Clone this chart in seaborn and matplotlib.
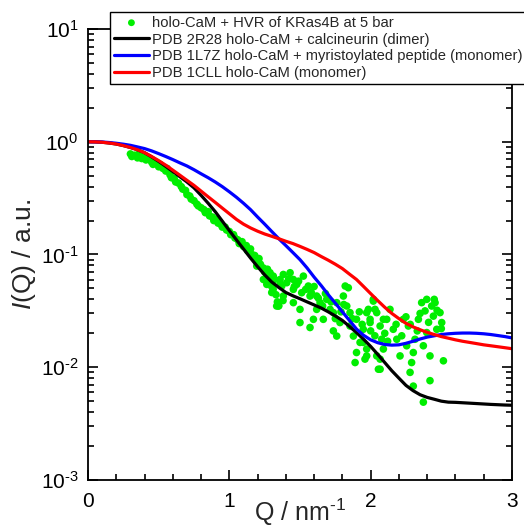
import matplotlib
matplotlib.use("Agg")
import matplotlib.pyplot as plt
import seaborn as sns
from matplotlib.ticker import LogLocator, MultipleLocator, NullFormatter, FuncFormatter
import numpy as np

# measured SAXS data (green points)
q_data = [
    0.30, 0.31, 0.33, 0.35, 0.36, 0.38, 0.40, 0.41, 0.43, 0.45, 0.46, 0.48,
    0.50, 0.51, 0.53, 0.55, 0.56, 0.58, 0.59, 0.61, 0.62, 0.64, 0.66, 0.67,
    0.69, 0.70, 0.72, 0.73, 0.75, 0.77, 0.78, 0.80, 0.82, 0.83, 0.85, 0.86,
    0.88, 0.89, 0.91, 0.92, 0.94, 0.95, 0.97, 0.98, 1.00, 1.01, 1.03, 1.04,
    1.06, 1.07, 1.09, 1.10, 1.12, 1.13, 1.15, 1.16, 1.18, 1.19, 1.21, 1.22,
    1.24, 1.25, 1.26, 1.27, 1.28, 1.29, 1.30, 1.31, 1.32, 1.33, 1.34, 1.35,
    1.36,
    1.194, 1.253, 1.241, 1.288, 1.265, 1.311, 1.359, 1.382, 1.406, 1.430,
    1.453, 1.371, 1.335, 1.382, 1.453, 1.477, 1.524, 1.512, 1.559, 1.571,
    1.453, 1.500, 1.618, 1.642, 1.689, 1.713, 1.736, 1.665, 1.595, 1.500,
    1.571, 1.618, 1.760, 1.807, 1.842, 1.831, 1.854, 1.783, 1.760, 1.736,
    1.854, 1.900, 1.878, 1.925, 1.948, 1.972, 1.900, 1.996, 1.984, 2.019,
    2.043, 2.067, 2.078, 2.043, 2.067, 1.960, 1.890, 2.090, 1.820, 1.347,
    1.972, 2.019, 2.031, 1.996, 1.948, 1.972, 2.067, 2.055, 2.090, 2.114,
    2.137, 2.160, 2.185, 2.208, 2.231, 2.267, 2.255, 2.290, 2.302, 2.314,
    2.279, 2.302, 2.338, 2.361, 2.397, 2.432, 2.444, 2.468, 2.491, 2.503,
    2.397, 2.373, 2.420, 2.515, 2.420, 2.373, 2.456, 2.385,
    1.42, 1.46, 1.49, 1.54, 1.58, 1.60, 1.63, 1.66, 1.68, 1.72, 1.75, 1.79,
    1.81, 1.87, 1.92, 1.94, 2.00, 2.03, 2.10, 2.12, 2.18, 2.22, 2.25, 2.28,
    2.33, 2.35, 2.41, 2.47, 2.45, 2.50, 1.30, 1.38,
]
i_data = [
    0.78, 0.74, 0.76, 0.72, 0.78, 0.71, 0.74, 0.69, 0.72, 0.66, 0.63, 0.65,
    0.60, 0.63, 0.58, 0.55, 0.58, 0.51, 0.48, 0.47, 0.44, 0.43, 0.40, 0.38,
    0.37, 0.34, 0.33, 0.31, 0.30, 0.28, 0.27, 0.26, 0.25, 0.235, 0.24, 0.22,
    0.215, 0.20, 0.205, 0.19, 0.185, 0.175, 0.175, 0.165, 0.160, 0.150, 0.150, 0.140,
    0.135, 0.125, 0.130, 0.118, 0.120, 0.108, 0.112, 0.100, 0.098, 0.088, 0.092, 0.082,
    0.076, 0.070, 0.062, 0.074, 0.058, 0.066, 0.052, 0.049, 0.060, 0.044, 0.038, 0.035,
    0.055,
    0.079, 0.0736, 0.060, 0.0689, 0.0543, 0.0643, 0.060, 0.0665, 0.0562, 0.0689,
    0.060, 0.0525, 0.0349, 0.0428, 0.049, 0.0543, 0.0643, 0.0458, 0.0525, 0.0428,
    0.0374, 0.0326, 0.0428, 0.0374, 0.040, 0.0326, 0.0305, 0.0266, 0.0266, 0.0249,
    0.0225, 0.0326, 0.0374, 0.0428, 0.0507, 0.0349, 0.0305, 0.0249, 0.0189, 0.021,
    0.0232, 0.0266, 0.0189, 0.0166, 0.0217, 0.0145, 0.0135, 0.0266, 0.0326, 0.0386,
    0.0305, 0.0232, 0.0177, 0.0126, 0.0096, 0.0118, 0.011, 0.0266, 0.0525, 0.035,
    0.0305, 0.040, 0.0326, 0.0249, 0.0166, 0.0126, 0.0118, 0.0096, 0.0145, 0.0266,
    0.0326, 0.0217, 0.0177, 0.0126, 0.0266, 0.0232, 0.0155, 0.011, 0.0135, 0.0177,
    0.009, 0.0068, 0.0266, 0.0374, 0.040, 0.0349, 0.0284, 0.0217, 0.0305, 0.0249,
    0.0203, 0.0155, 0.0126, 0.0114, 0.0076, 0.0049, 0.0374, 0.0316,
    0.061, 0.052, 0.058, 0.049, 0.046, 0.052, 0.041, 0.035, 0.045, 0.038, 0.027, 0.031,
    0.036, 0.027, 0.031, 0.024, 0.021, 0.019, 0.020, 0.017, 0.024, 0.019, 0.028, 0.024,
    0.021, 0.030, 0.025, 0.032, 0.040, 0.022, 0.046, 0.039,
]

# model curves, read every 0.05 nm^-1
q_model = [
    0.00, 0.05, 0.10, 0.15, 0.20, 0.25, 0.30, 0.35, 0.40, 0.45, 0.50, 0.55,
    0.60, 0.65, 0.70, 0.75, 0.80, 0.85, 0.90, 0.95, 1.00, 1.05, 1.10, 1.15,
    1.20, 1.25, 1.30, 1.35, 1.40, 1.45, 1.50, 1.55, 1.60, 1.65, 1.70, 1.75,
    1.80, 1.85, 1.90, 1.95, 2.00, 2.05, 2.10, 2.15, 2.20, 2.25, 2.30, 2.35,
    2.40, 2.45, 2.50, 2.55, 2.60, 2.65, 2.70, 2.75, 2.80, 2.85, 2.90, 2.95, 3.00,
]
i_2r28 = [
    1.000, 0.998, 0.990, 0.975, 0.955, 0.925, 0.890, 0.850, 0.800, 0.735, 0.670, 0.605,
    0.545, 0.490, 0.440, 0.390, 0.335, 0.285, 0.240, 0.198, 0.163, 0.135, 0.112, 0.093,
    0.078, 0.066, 0.057, 0.051, 0.046, 0.043, 0.0405, 0.038, 0.0357, 0.0335, 0.031, 0.0285,
    0.026, 0.023, 0.0203, 0.0177, 0.0153, 0.0130, 0.0110, 0.0093, 0.0080, 0.0069, 0.0062, 0.0057,
    0.0054, 0.0052, 0.0050, 0.0049, 0.00488, 0.00484, 0.0048, 0.00476, 0.00472, 0.00468,
    0.00465, 0.00462, 0.0046,
]
i_1l7z = [
    1.000, 0.999, 0.995, 0.985, 0.970, 0.952, 0.930, 0.900, 0.870, 0.830, 0.785, 0.740,
    0.695, 0.650, 0.610, 0.565, 0.520, 0.480, 0.440, 0.400, 0.360, 0.322, 0.285, 0.250,
    0.215, 0.186, 0.160, 0.138, 0.120, 0.104, 0.090, 0.076, 0.063, 0.053, 0.044, 0.037,
    0.031, 0.026, 0.0218, 0.0192, 0.0175, 0.0165, 0.0159, 0.0157, 0.0158, 0.0163, 0.0170, 0.0178,
    0.0185, 0.0190, 0.0195, 0.0198, 0.0200, 0.0201, 0.0201, 0.0200, 0.0198, 0.0195,
    0.0191, 0.0187, 0.0182,
]
i_1cll = [
    1.000, 0.998, 0.990, 0.975, 0.955, 0.925, 0.890, 0.850, 0.800, 0.740, 0.680, 0.620,
    0.560, 0.505, 0.455, 0.410, 0.365, 0.325, 0.290, 0.258, 0.230, 0.205, 0.186, 0.172,
    0.161, 0.152, 0.145, 0.138, 0.131, 0.125, 0.118, 0.111, 0.104, 0.096, 0.089, 0.082,
    0.075, 0.067, 0.060, 0.052, 0.045, 0.039, 0.034, 0.030, 0.027, 0.0245, 0.0228, 0.0215,
    0.0204, 0.0195, 0.0187, 0.0181, 0.0175, 0.0170, 0.0166, 0.0162, 0.0158, 0.0155,
    0.0152, 0.0149, 0.0146,
]

labels = [
    "holo-CaM + HVR of KRas4B at 5 bar",
    "PDB 2R28 holo-CaM + calcineurin (dimer)",
    "PDB 1L7Z holo-CaM + myristoylated peptide (monomer)",
    "PDB 1CLL holo-CaM (monomer)",
]

sns.set_style("ticks")
plt.rcParams["font.family"] = ["Liberation Sans", "DejaVu Sans"]
plt.rcParams["mathtext.fontset"] = "custom"
plt.rcParams["mathtext.rm"] = "Liberation Sans"
plt.rcParams["mathtext.it"] = "Liberation Sans:italic"
plt.rcParams["axes.unicode_minus"] = False


def pow10_label(v, pos):
    # short hyphen in the exponent, like the original figure
    e = int(round(np.log10(v)))
    exp = r"\text{-}" + str(-e) if e < 0 else str(e)
    return r"$\mathregular{10^{" + exp + "}}$"


fig = plt.figure(figsize=(5.24, 5.28), dpi=100)
ax = fig.add_axes([0.168, 0.091, 0.809, 0.854])

sns.scatterplot(x=q_data, y=i_data, color="#00ee00", s=30, edgecolor="none",
                ax=ax, label=labels[0], zorder=1)
sns.lineplot(x=q_model, y=i_2r28, color="black", lw=2.3, ax=ax, label=labels[1])
sns.lineplot(x=q_model, y=i_1l7z, color="blue", lw=2.3, ax=ax, label=labels[2])
sns.lineplot(x=q_model, y=i_1cll, color="red", lw=2.3, ax=ax, label=labels[3])

ax.set_yscale("log")
ax.set_xlim(0, 3)
ax.set_ylim(1e-3, 10)
ax.xaxis.set_major_locator(MultipleLocator(1))
ax.xaxis.set_minor_locator(MultipleLocator(0.2))
ax.yaxis.set_major_locator(LogLocator(base=10, numticks=10))
ax.yaxis.set_major_formatter(FuncFormatter(pow10_label))
ax.yaxis.set_minor_locator(LogLocator(base=10, subs=range(2, 10), numticks=20))
ax.yaxis.set_minor_formatter(NullFormatter())

ax.tick_params(which="both", direction="in", left=True, right=True, top=False,
               bottom=True, width=1.2, labelsize=15, colors="black")
ax.tick_params(which="major", length=7)
ax.tick_params(which="minor", length=4)
ax.tick_params(axis="x", pad=9)
ax.tick_params(axis="y", pad=7)
for s in ax.spines.values():
    s.set_linewidth(1.3)
    s.set_color("black")

ax.set_xlabel(r"Q / nm$^{\text{-}1}$", fontsize=18, labelpad=-11)
ax.set_ylabel(r"$\it{I}$(Q) / a.u.", fontsize=19)
ax.yaxis.set_label_coords(-0.118, 0.5)

handles, labs = ax.get_legend_handles_labels()
order = [labs.index(l) for l in labels]
leg = ax.legend([handles[k] for k in order], labels, loc="upper left",
                bbox_to_anchor=(0.052, 1.038), fontsize=10.6, frameon=True,
                fancybox=False, edgecolor="black", framealpha=1,
                handlelength=2.4, handletextpad=0.2, labelspacing=0.2,
                borderpad=0.25, borderaxespad=0, scatterpoints=1, markerscale=0.9)
leg.get_frame().set_linewidth(1.0)
leg.set_zorder(5)

fig.savefig("out.png", dpi=100)
